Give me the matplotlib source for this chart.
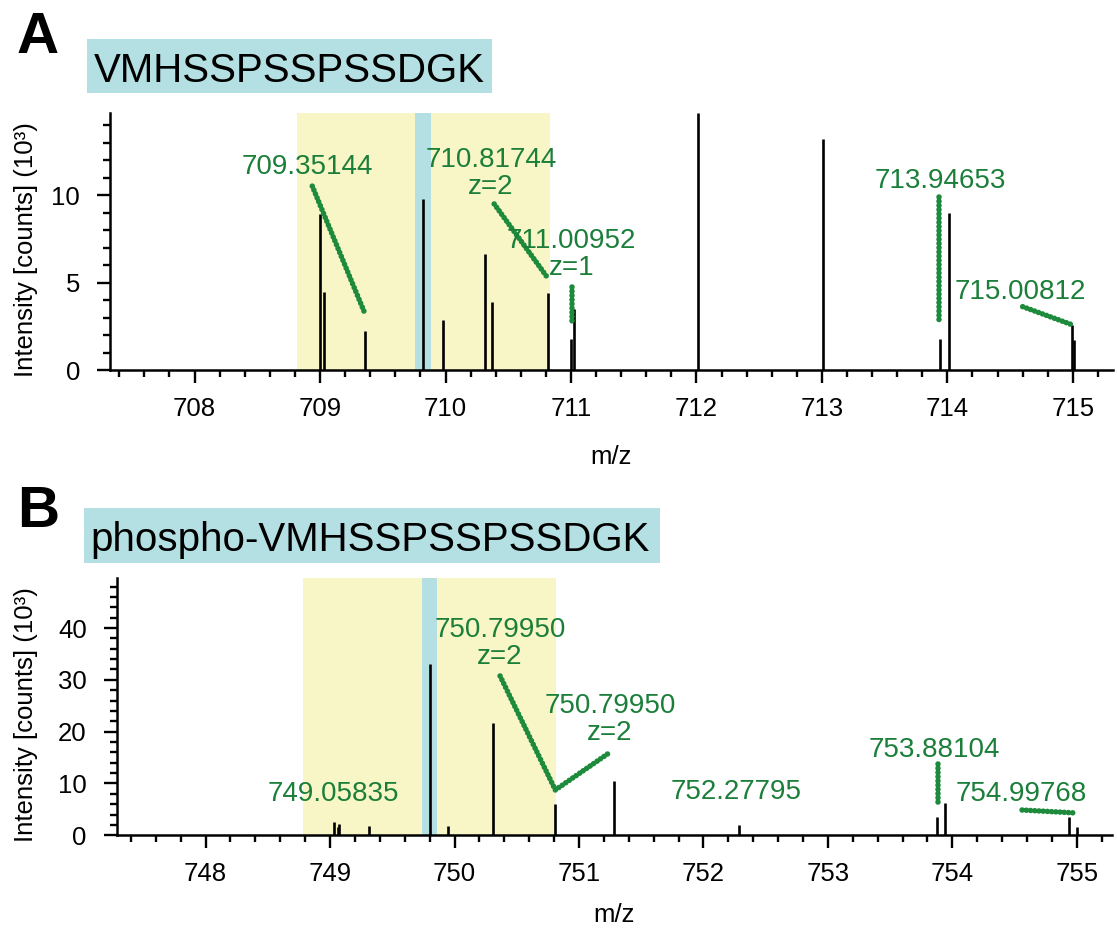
import matplotlib
matplotlib.use("Agg")
import matplotlib.pyplot as plt
from matplotlib.ticker import MultipleLocator
from matplotlib.patches import Rectangle

plt.rcParams['font.family'] = ['Liberation Sans', 'DejaVu Sans']

# ---------------- data ----------------
titles = ["VMHSSPSSPSSDGK", "phospho-VMHSSPSSPSSDGK"]
panel_letters = ["A", "B"]

mz_A = [709.00, 709.033, 709.357, 709.82, 709.98, 710.317, 710.367, 710.817,
        711.00, 711.025, 712.015, 713.01, 713.94, 714.01, 714.995, 715.006]
int_A = [8.9, 4.43, 2.25, 9.75, 2.87, 6.63, 3.9, 4.42,
         1.77, 3.5, 14.67, 13.2, 1.8, 9.0, 2.55, 1.7]

mz_B = [749.03, 749.06, 749.075, 749.31, 749.80, 749.95, 750.31, 750.81,
        751.285, 752.285, 753.88, 753.94, 754.94, 755.0]
int_B = [2.5, 1.66, 2.1, 1.8, 33.0, 1.8, 21.6, 6.1,
         10.5, 2.0, 3.53, 6.3, 3.6, 1.66]

xticks_A = [708, 709, 710, 711, 712, 713, 714, 715]
xticks_B = [748, 749, 750, 751, 752, 753, 754, 755]

yellow_A = (708.815, 710.83)
blue_A = (709.756, 709.884)
yellow_B = (748.78, 750.815)
blue_B = (749.74, 749.86)

labels_A = ["709.35144", "710.81744\nz=2", "711.00952\nz=1", "713.94653", "715.00812"]
label_x_A = [708.897, 710.363, 711.006, 713.94, 714.58]
label_y_A = [11.6, 11.23, 6.63, 10.8, 4.46]
leaders_A = [
    ([708.938, 709.357], [10.51, 3.24]),
    ([710.388, 710.817], [9.49, 5.24]),
    ([711.01, 711.01], [4.76, 2.57]),
    ([713.937, 713.937], [9.89, 2.69]),
    ([714.60, 715.0], [3.62, 2.57]),
]

labels_B = ["749.05835", "750.79950\nz=2", "750.79950\nz=2", "752.27795", "753.88104", "754.99768"]
label_x_B = [749.03, 750.366, 751.25, 752.264, 753.852, 754.55]
label_y_B = [7.97, 37.0, 22.3, 8.42, 16.47, 7.97]
leaders_B = [
    ([750.366, 750.81, 751.245], [30.75, 8.75, 15.95]),
    ([753.883, 753.883], [13.76, 6.04]),
    ([754.56, 755.0], [4.88, 4.3]),
]

# ---------------- style ----------------
GREEN_T = '#1b7f3a'
GREEN_D = '#1d8a3c'
YELLOW = '#f8f5c6'
BLUE = '#b4e0e3'

W, H = 1117, 930
fig = plt.figure(figsize=(W / 100, H / 100), dpi=100)


def fx(px):
    return px / W


def fy(py):
    return 1 - py / H


def make_panel(rect, mz, inten, xlim, ylim, xticks, ymaj, ymin, yellow, blue,
               labels, lx, ly, leaders, ylab_x, xlab_y):
    ax = fig.add_axes(rect)
    ax.axvspan(*yellow, color=YELLOW, lw=0, zorder=0)
    ax.axvspan(*blue, color=BLUE, lw=0, zorder=0.5)
    ax.vlines(mz, 0, inten, color='black', lw=1.9, zorder=2)
    for xs, ys in leaders:
        ax.plot(xs, ys, color=GREEN_D, lw=4.0, linestyle=(0, (0.01, 0.75)),
                dash_capstyle='round', zorder=3, clip_on=False)
    for s, x, y in zip(labels, lx, ly):
        ax.text(x, y, s, ha='center', va='center', fontsize=20, color=GREEN_T,
                linespacing=1.05, multialignment='center', zorder=4)
    ax.set_xlim(*xlim)
    ax.set_ylim(*ylim)
    ax.set_xticks(xticks)
    ax.xaxis.set_minor_locator(MultipleLocator(0.2))
    ax.yaxis.set_major_locator(MultipleLocator(ymaj))
    ax.yaxis.set_minor_locator(MultipleLocator(ymin))
    for sp in ['top', 'right']:
        ax.spines[sp].set_visible(False)
    for sp in ['left', 'bottom']:
        ax.spines[sp].set_linewidth(1.8)
    ax.tick_params(which='major', direction='out', length=9.5, width=1.7,
                   labelsize=18.5, color='black')
    ax.tick_params(which='minor', direction='out', length=5, width=1.7)
    ax.tick_params(axis='x', which='major', pad=10)
    ax.tick_params(axis='y', which='major', pad=12)
    ax.set_xlabel('m/z', fontsize=18.5)
    ax.set_ylabel('Intensity [counts] (10³)', fontsize=18.5)
    ax.yaxis.set_label_coords(ylab_x, 0.47)
    ax.xaxis.set_label_coords(0.5, xlab_y)
    return ax


# Panel A
make_panel([fx(110), fy(370), (1113 - 110) / W, 257 / H], mz_A, int_A,
           (707.326, 715.32), (0, 14.69), xticks_A, 5, 1, yellow_A, blue_A,
           labels_A, label_x_A, label_y_A, leaders_A, -0.0718, -0.29)

# Panel B
make_panel([fx(116.7), fy(835.3), (1111.7 - 116.7) / W, 257 / H], mz_B, int_B,
           (747.286, 755.28), (0, 49.6), xticks_B, 10, 2, yellow_B, blue_B,
           labels_B, label_x_B, label_y_B, leaders_B, -0.079, -0.265)

# Title boxes
fig.add_artist(Rectangle((fx(86.7), fy(92.7)), (491.7 - 86.7) / W, (92.7 - 39.3) / H,
                         transform=fig.transFigure, facecolor=BLUE, edgecolor='none', zorder=0))
fig.add_artist(Rectangle((fx(84), fy(563)), (660 - 84) / W, (563 - 508) / H,
                         transform=fig.transFigure, facecolor=BLUE, edgecolor='none', zorder=0))
fig.text(fx(94), fy(82), titles[0], fontsize=29, ha='left', va='baseline', color='black')
fig.text(fx(90), fy(551), titles[1], fontsize=29, ha='left', va='baseline', color='black')

# Panel letters
fig.text(fx(17), fy(53), panel_letters[0], fontsize=42, fontweight='bold', ha='left', va='baseline')
fig.text(fx(17), fy(527), panel_letters[1], fontsize=42, fontweight='bold', ha='left', va='baseline')

fig.savefig('out.png', dpi=100)
